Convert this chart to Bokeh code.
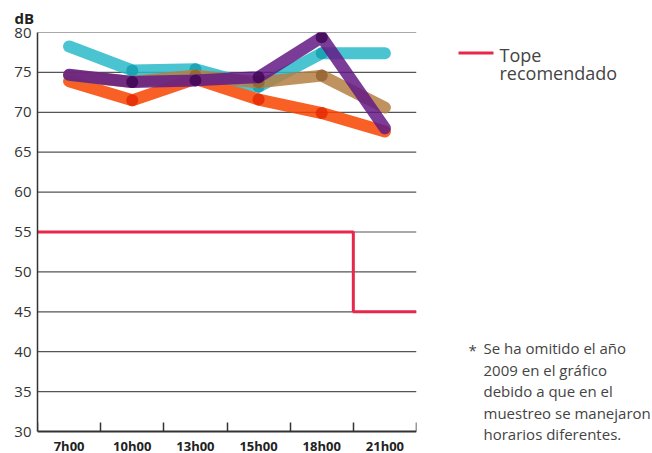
from bokeh.plotting import figure
from bokeh.models import Range1d, FixedTicker, Label, Title
from bokeh.layouts import row
from bokeh.embed import file_html
from bokeh.resources import INLINE

categories = ["7h00", "10h00", "13h00", "15h00", "18h00", "21h00"]
y_ticks = [30, 35, 40, 45, 50, 55, 60, 65, 70, 75, 80]

serie_cian = [78.25, 75.25, 75.4, 73.2, 77.4, 77.4]
serie_naranja = [73.9, 71.5, 74.2, 71.6, 69.9, 67.6]
serie_cafe = [74.6, 73.8, 74.6, 73.75, 74.6, 70.6]
serie_morado = [74.7, 73.8, 74.0, 74.4, 79.4, 68.0]
tope_recomendado = [55, 55, 55, 55, 55, 45]

legend_lines = ["Tope", "recomendado"]
note_lines = ["Se ha omitido el año", "2009 en el gráfico", "debido a que en el",
              "muestreo se manejaron", "horarios diferentes."]

FONT = "Open Sans"
n = len(categories)
xs = [i + 0.5 for i in range(n)]

MAIN_W = 418
TOTAL_W = 652
TOTAL_H = 453
TOP = 32
PX_PER_DB = 399 / (y_ticks[-1] - y_ticks[0])
frame_h = TOTAL_H - TOP
y_start = y_ticks[-1] - frame_h / PX_PER_DB  # frame extends below the x axis for the labels

p = figure(frame_width=379, frame_height=frame_h, output_backend="svg", toolbar_location=None,
           x_range=Range1d(0, n), y_range=Range1d(y_start, y_ticks[-1]),
           min_border_left=37, min_border_right=2, min_border_top=TOP, min_border_bottom=0)
p.outline_line_color = None
p.grid.visible = False

p.title = Title(text="dB", align="left", offset=-23, text_font=FONT, text_font_size="15px",
                text_font_style="bold", text_color="#222222", standoff=9)

# x axis (fixed at the 30 dB level)
p.xaxis.fixed_location = y_ticks[0]
p.xaxis.bounds = (0, n)
p.xaxis.ticker = FixedTicker(ticks=xs, minor_ticks=list(range(n + 1)))
p.xaxis.major_label_overrides = {x: c for x, c in zip(xs, categories)}
p.xaxis.major_tick_line_color = None
p.xaxis.major_tick_in = 0
p.xaxis.major_tick_out = 0
p.xaxis.minor_tick_in = 9
p.xaxis.minor_tick_out = 0
p.xaxis.minor_tick_line_color = "#333333"
p.xaxis.minor_tick_line_width = 1.5
p.xaxis.axis_line_color = "#333333"
p.xaxis.axis_line_width = 2
p.xaxis.major_label_text_font = FONT
p.xaxis.major_label_text_font_style = "bold"
p.xaxis.major_label_text_font_size = "13px"
p.xaxis.major_label_text_color = "#222222"
p.xaxis.major_label_standoff = 5

# y axis
p.yaxis.bounds = (y_ticks[0], y_ticks[-1])
p.yaxis.ticker = FixedTicker(ticks=y_ticks)
p.yaxis.major_tick_line_color = None
p.yaxis.major_tick_in = 0
p.yaxis.major_tick_out = 0
p.yaxis.minor_tick_line_color = None
p.yaxis.axis_line_color = "#333333"
p.yaxis.axis_line_width = 1.5
p.yaxis.major_label_text_font = FONT
p.yaxis.major_label_text_font_size = "15px"
p.yaxis.major_label_text_color = "#333333"
p.yaxis.major_label_standoff = 6

# horizontal grid lines
gy = [t for t in y_ticks if t > y_ticks[0]]
p.segment(x0=[0] * len(gy), y0=gy, x1=[n] * len(gy), y1=gy,
          line_color="#555555", line_width=1.2)

series = [
    (serie_naranja, "#F84400", "#E52A06"),
    (serie_cian, "#2CBACA", "#16A0B0"),
    (serie_cafe, "#B57F43", "#936333"),
    (serie_morado, "#641A85", "#410756"),
]
for vals, col, dot in series:
    p.line(xs, vals, line_color=col, line_width=12, line_alpha=0.85,
           line_join="round", line_cap="round")
    p.scatter(xs[1:-1], vals[1:-1], marker="circle", size=12,
              fill_color=dot, fill_alpha=0.85, line_color=None)

# recommended limit (step)
p.step(list(range(n + 1)), tope_recomendado + [tope_recomendado[-1]], mode="after",
       line_color="#E8284B", line_width=3)

# side panel: legend and note (coordinates = page pixels)
side_w = TOTAL_W - MAIN_W
s = figure(width=side_w, height=TOTAL_H, output_backend="svg", toolbar_location=None,
           x_range=Range1d(MAIN_W, TOTAL_W), y_range=Range1d(TOTAL_H, TOP),
           min_border_left=0, min_border_right=0, min_border_top=TOP, min_border_bottom=0)
s.outline_line_color = None
s.axis.visible = False
s.grid.visible = False

s.line([458, 493], [52.5, 52.5], line_color="#E8284B", line_width=3)
for t, yy in zip(legend_lines, [54.5, 72]):
    s.add_layout(Label(x=499, y=yy, text=t, text_font=FONT, text_font_size="18px",
                       text_color="#444444", text_baseline="alphabetic"))

s.add_layout(Label(x=468, y=349.5, text="*", text_font=FONT, text_font_size="15px",
                   text_color="#444444", text_baseline="alphabetic"))
for t, yy in zip(note_lines, [347.5, 369, 390.5, 412, 433.5]):
    s.add_layout(Label(x=483, y=yy, text=t, text_font=FONT, text_font_size="15px",
                       text_color="#444444", text_baseline="alphabetic"))

layout = row(p, s, spacing=0)
open("out.html", "w").write(file_html(layout, INLINE))
